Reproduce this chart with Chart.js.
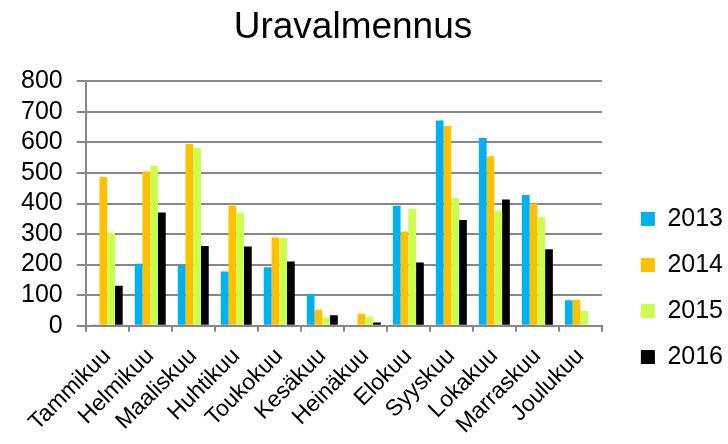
<!DOCTYPE html>
<html>
<head>
<meta charset="utf-8">
<script src="https://cdn.jsdelivr.net/npm/chart.js@4/dist/chart.umd.min.js"></script>
<style>
  html, body { margin: 0; padding: 0; background: #fff; }
  #wrap { width: 728px; height: 444px; }
</style>
</head>
<body>
<div id="wrap"><canvas id="c"></canvas></div>
<script>
const months = ["Tammikuu", "Helmikuu", "Maaliskuu", "Huhtikuu", "Toukokuu", "Kesäkuu",
  "Heinäkuu", "Elokuu", "Syyskuu", "Lokakuu", "Marraskuu", "Joulukuu"];
const v2013 = [4, 203, 196, 177, 191, 104, 0, 393, 672, 615, 428, 83];
const v2014 = [487, 505, 595, 393, 289, 52, 39, 308, 654, 555, 400, 85];
const v2015 = [304, 523, 582, 370, 288, 27, 30, 382, 418, 376, 355, 48];
const v2016 = [131, 371, 261, 259, 210, 34, 10, 207, 346, 413, 250, 0];
const yTicks = [0, 100, 200, 300, 400, 500, 600, 700, 800];

const FONT = "'Liberation Sans', Arial, sans-serif";
const GRID = "#878787";

const series = [
  { label: "2013", data: v2013, color: "#00B0F0" },
  { label: "2014", data: v2014, color: "#FFC000" },
  { label: "2015", data: v2015, color: "#CCFF4D" },
  { label: "2016", data: v2016, color: "#000000" },
];

// Excel puts the title over the plot and the legend a bit lower/right than
// Chart.js does; nudge both boxes after layout.
const nudge = {
  id: "nudge",
  afterLayout(chart) {
    const lg = chart.legend, t = chart.titleBlock;
    lg.left += 18; lg.right += 18;
    lg.top += 63; lg.bottom += 63;
    t.left -= 8; t.right -= 8;
  },
};

new Chart(document.getElementById("c"), {
  type: "bar",
  data: {
    labels: months,
    datasets: series.map((s) => ({
      label: s.label,
      data: s.data,
      backgroundColor: s.color,
      borderWidth: 0,
      categoryPercentage: 0.72,
      barPercentage: 1,
    })),
  },
  options: {
    responsive: true,
    maintainAspectRatio: false,
    animation: false,
    layout: { padding: { left: 7, right: 13, top: 0, bottom: -6 } },
    scales: {
      x: {
        grid: { drawOnChartArea: false, color: GRID, lineWidth: 2, tickLength: 6 },
        border: { color: GRID, width: 2 },
        ticks: {
          color: "#000",
          font: { family: FONT, size: 23 },
          minRotation: 45,
          maxRotation: 45,
          padding: 11,
          autoSkip: false,
        },
      },
      y: {
        min: 0,
        max: 800,
        afterBuildTicks: (ax) => { ax.ticks = yTicks.map((v) => ({ value: v })); },
        grid: { color: GRID, lineWidth: 2, tickLength: 9 },
        border: { color: GRID, width: 2 },
        ticks: { color: "#000", font: { family: FONT, size: 25 }, padding: 14, autoSkip: false },
      },
    },
    plugins: {
      title: {
        display: true,
        text: "Uravalmennus",
        color: "#000",
        font: { family: FONT, size: 37, weight: "normal" },
        padding: { top: 6, bottom: 31 },
      },
      legend: {
        position: "right",
        labels: {
          color: "#000",
          font: { family: FONT, size: 25 },
          boxWidth: 14,
          boxHeight: 14,
          padding: 21,
        },
      },
      tooltip: { enabled: false },
    },
  },
  plugins: [nudge],
});
</script>
</body>
</html>
